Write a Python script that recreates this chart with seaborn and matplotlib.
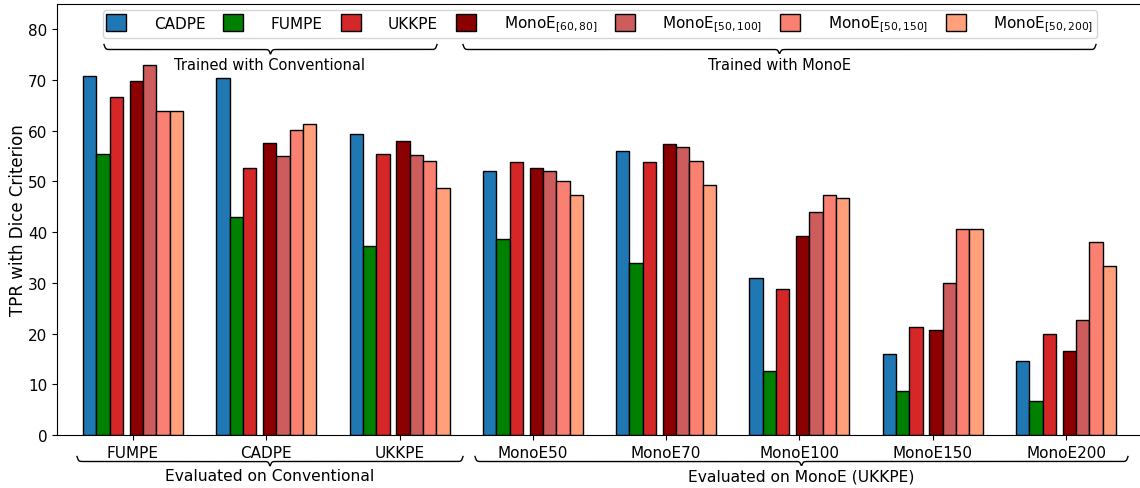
import numpy as np
import pandas as pd
import matplotlib
matplotlib.use("Agg")
import matplotlib.pyplot as plt
import seaborn as sns

# 评估数据集（x 轴分组）
groups = ["FUMPE", "CADPE", "UKKPE", "MonoE50", "MonoE70", "MonoE100", "MonoE150", "MonoE200"]

# 训练模型（图例）
models = ["CADPE", "FUMPE", "UKKPE",
          r"MonoE$_{[60,80]}$", r"MonoE$_{[50,100]}$",
          r"MonoE$_{[50,150]}$", r"MonoE$_{[50,200]}$"]

# 每个模型在各分组上的 TPR
tpr_cadpe = [70.8, 70.5, 59.3, 52.1, 56.1, 31.0, 16.0, 14.6]
tpr_fumpe = [55.5, 42.9, 37.3, 38.7, 34.0, 12.6, 8.6, 6.7]
tpr_ukkpe = [66.7, 52.6, 55.4, 53.8, 53.8, 28.7, 21.3, 20.0]
tpr_m60_80 = [69.8, 57.5, 58.0, 52.7, 57.4, 39.3, 20.7, 16.6]
tpr_m50_100 = [72.9, 55.1, 55.3, 52.0, 56.7, 44.0, 30.0, 22.7]
tpr_m50_150 = [63.8, 60.1, 54.0, 50.1, 54.1, 47.4, 40.7, 38.1]
tpr_m50_200 = [63.8, 61.3, 48.8, 47.4, 49.4, 46.7, 40.7, 33.3]

all_tpr = [tpr_cadpe, tpr_fumpe, tpr_ukkpe, tpr_m60_80, tpr_m50_100, tpr_m50_150, tpr_m50_200]

# 布局：组内柱子偏移（常规模型与 MonoE 模型之间留空）
bar_offsets = [-0.325, -0.225, -0.125, 0.025, 0.125, 0.225, 0.325]
colors = ["#1f77b4", "green", "#d62728", "darkred", "indianred", "salmon", "lightsalmon"]

rows = []
for m, vals, off in zip(models, all_tpr, bar_offsets):
    for gi, v in enumerate(vals):
        rows.append({"x": round(gi + off, 3), "model": m, "TPR": v})
df = pd.DataFrame(rows)

W, H = 1140, 489
plt.rcParams["font.size"] = 11
fig = plt.figure(figsize=(W / 100, H / 100), dpi=100)
ax = fig.add_axes([57 / W, 53 / H, 1083 / W, 431 / H])

sns.barplot(data=df, x="x", y="TPR", hue="model", hue_order=models,
            palette=colors, saturation=1, native_scale=True, width=1.0,
            errorbar=None, edgecolor="black", linewidth=1, ax=ax)

ax.set_xlim(-0.57, 7.555)
ax.set_ylim(0, 85)
ax.set_xticks(range(len(groups)))
ax.set_xticklabels(groups)
ax.set_yticks(range(0, 81, 10))
ax.set_xlabel("")
ax.set_ylabel("TPR with Dice Criterion", fontsize=12, labelpad=1)
ax.spines["right"].set_visible(False)

sns.move_legend(ax, "upper left", bbox_to_anchor=(0.0425, 0.985, 0.9175, 0.0),
                mode="expand", ncol=7, title=None, frameon=True,
                handlelength=1.3, handleheight=1.3, handletextpad=1.8,
                borderpad=0.22, borderaxespad=0.0, fontsize=11)


# 花括号（像素坐标，y 向下）
def brace(x0, x1, y_end, amp=10.0, k=0.8):
    xm = (x0 + x1) / 2
    xs = np.linspace(x0, x1, 800)
    d = np.where(xs <= xm, xs - x0, x1 - xs)
    sig = lambda t: 1 / (1 + np.exp(-t / k))
    off = amp * (sig(d) - 0.5) + amp * sig(d - (xm - x0))
    ys = y_end + off
    fig.add_artist(plt.Line2D(xs / W, 1 - ys / H, color="black", lw=1.0))


brace(104, 437, 45.5)
brace(463, 1096, 45.5)
brace(77, 463, 457.5)
brace(475, 1128, 457.5)

fig.text(270 / W, 1 - 65 / H, "Trained with Conventional", ha="center", va="center", fontsize=10.5)
fig.text(780 / W, 1 - 65 / H, "Trained with MonoE", ha="center", va="center", fontsize=10.5)
fig.text(270 / W, 1 - 477 / H, "Evaluated on Conventional", ha="center", va="center", fontsize=11.2)
fig.text(801 / W, 1 - 477 / H, "Evaluated on MonoE (UKKPE)", ha="center", va="center", fontsize=11.2)

fig.savefig("out.png", dpi=100)
